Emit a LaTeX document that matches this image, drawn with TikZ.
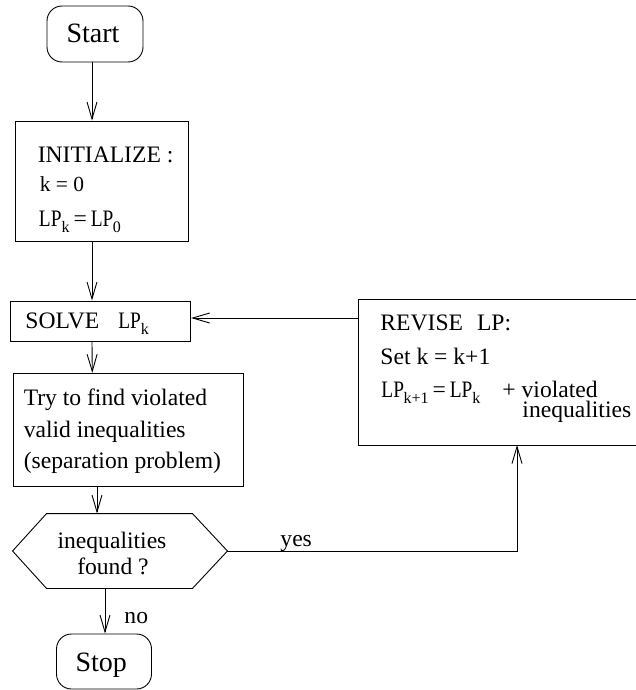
\documentclass[tikz,border=0pt]{standalone}
\usepackage{fontspec}
\usepackage{graphicx}
\setmainfont{Liberation Serif}
\usetikzlibrary{arrows.meta}
\newcommand\lpsub[3][0pt]{\kern#1\raisebox{-6.5pt}{\fontsize{#2}{#2}\selectfont #3}}
\newcommand\LPn{\scalebox{0.82}[1]{LP}}
\begin{document}
\begin{tikzpicture}[x=1pt,y=-1pt,line width=0.9pt,
  box/.style={draw,rectangle,inner sep=0pt},
  rbox/.style={draw,rectangle,rounded corners=15pt,inner sep=0pt},
  ghost/.style={rectangle,inner sep=0pt},
  txt/.style={inner sep=0pt,font=\fontsize{23.6}{28}\selectfont},
  smalltxt/.style={inner sep=0pt,font=\fontsize{21.5}{25}\selectfont},
  bigtxt/.style={inner sep=0pt,font=\fontsize{28}{32}\selectfont},
  arr/.style={-{Straight Barb[length=17pt,width=10pt,line width=0.9pt]}}]
\useasboundingbox (0,0) rectangle (636,690);
\clip (0,0) rectangle (636,690);
% boxes
\node[rbox,minimum width=96pt,minimum height=56pt] (start) at (95,34) {};
\node[box,minimum width=173pt,minimum height=120pt] (init) at (102,181) {};
\node[box,minimum width=180.7pt,minimum height=40.7pt] (solve) at (100.3,321.3) {};
\node[box,minimum width=230.7pt,minimum height=113.3pt] (try) at (128.3,430) {};
\node[ghost,minimum width=214pt,minimum height=74pt] (hex) at (120,551) {};
\draw (hex.west) -- ([xshift=34pt]hex.north west) -- ([xshift=-35pt]hex.north east)
  -- (hex.east) -- ([xshift=-35pt]hex.south east) -- ([xshift=34pt]hex.south west) -- cycle;
\node[rbox,minimum width=95pt,minimum height=55pt] (stop) at (104,661.5) {};
\node[box,minimum width=282pt,minimum height=146pt] (revise) at (499,372) {};
% texts
\node[bigtxt,anchor=base] (tstart) at (93,42.3) {Start};
\node[txt,anchor=base west] (tinit1) at (37.3,162.7) {INITIALIZE :};
\node[smalltxt,anchor=base west] (tinit2) at (39.3,191.7) {k = 0};
\node[txt,anchor=base west] (tinit3) at (38.5,226) {\LPn\lpsub{16}{k}\hspace{4pt}=\hspace{4pt}\LPn\lpsub[-0.5pt]{16}{0}};
\node[txt,anchor=base west] (tsolve) at (25,328.3) {SOLVE\hspace{19pt}\LPn\lpsub{16}{k}};
\node[txt,anchor=base west] (ttry1) at (23.3,405.7) {Try to find violated};
\node[txt,anchor=base west] (ttry2) at (23.3,437) {valid inequalities};
\node[txt,anchor=base west] (ttry3) at (23.3,468) {(separation problem)};
\node[txt,anchor=base] (thex1) at (112,548.3) {inequalities};
\node[txt,anchor=base] (thex2) at (113,574) {found ?};
\node[bigtxt,anchor=base] (tstop) at (101.3,671.7) {Stop};
\node[txt,anchor=base west] (trev1) at (380,330) {REVISE\hspace{14pt}LP:};
\node[txt,anchor=base west] (trev2) at (380,364.3) {Set k = k+1};
\node[txt,anchor=base west] (trev3) at (381,397.3) {\LPn\lpsub[-0.5pt]{16}{k+1}\hspace{4pt}=\hspace{4pt}\LPn\lpsub{16}{k}};
\node[txt,anchor=base west] (trev3b) at (502,397.3) {+ violated};
\node[txt,anchor=base west] (trev4) at (522,417.5) {inequalities};
\node[txt,anchor=base west] (tyes) at (280,546) {yes};
\node[txt,anchor=base west] (tno) at (124,623) {no};
% connectors
\draw[arr] ([xshift=-3pt]start.south) -- ([xshift=-10pt]init.north);
\draw[arr] ([xshift=-10pt]init.south) -- ([xshift=-8.3pt]solve.north);
\draw[arr] ([xshift=-8.3pt]solve.south) -- ([xshift=-36pt]try.north);
\draw[arr] ([xshift=-31.3pt]try.south) -- ([xshift=-23pt]hex.north);
\draw[arr] ([xshift=-15pt]hex.south) -- ([xshift=1pt]stop.north);
\coordinate (sE) at ([yshift=3.3pt]solve.east);
\draw[arr] (sE -| revise.west) -- (sE);
\coordinate (yesR) at (517,445);
\draw[arr] (hex.east) -| (yesR);
\end{tikzpicture}
\end{document}
